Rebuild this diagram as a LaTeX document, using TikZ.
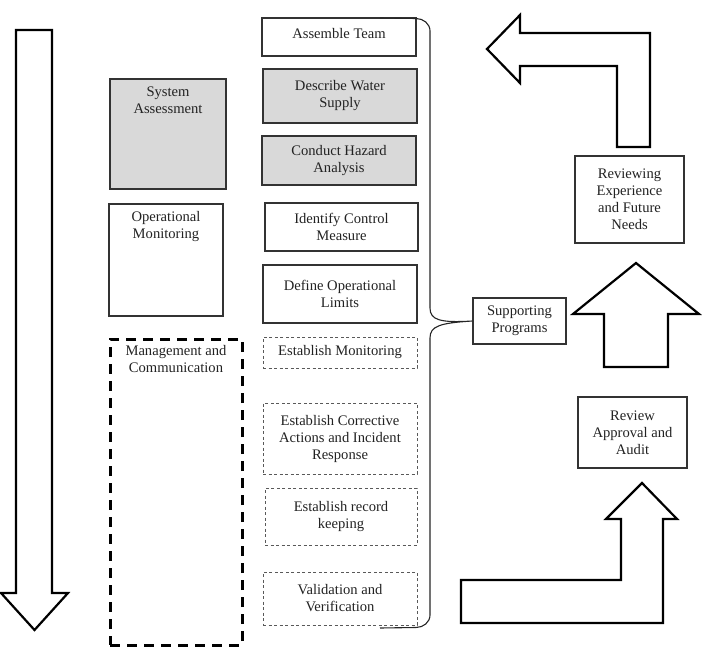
\documentclass[tikz,border=0pt]{standalone}
\usepackage{fontspec}
\setmainfont{Liberation Serif}
\definecolor{boxgray}{HTML}{D9D9D9}
\definecolor{edge}{HTML}{333333}
\definecolor{txt}{HTML}{222222}
\begin{document}
\begin{tikzpicture}[x=1pt,y=-1pt,
  lbl/.style={font=\fontsize{14.6}{17}\selectfont, text=txt, align=center},
  box/.style={lbl, draw=edge, line width=1.1pt, inner sep=1pt},
  sz/.style 2 args={minimum width=#1pt, minimum height=#2pt},
  shaded/.style={box, fill=boxgray},
  thindash/.style={box, draw=black!65, line width=0.9pt, dash pattern=on 3pt off 2.5pt},
  thickdash/.style={draw=black, line width=3pt, dash pattern=on 10pt off 7pt, minimum width=132pt, minimum height=306pt},
  bigarrow/.style={draw=black, line width=2.2pt, line join=miter, fill=white},
  bracket/.style={draw=black!85, line width=1.1pt}]
\useasboundingbox (0,0) rectangle (702,650);

% left down arrow
\draw[bigarrow] (16,30) -- (52,30) -- (52,593) -- (68,593) -- (34.5,630) -- (1,593) -- (16,593) -- cycle;

% right side arrows
\draw[bigarrow] (487,49) -- (520,15) -- (520,33) -- (650,33) -- (650,147) -- (617,147) -- (617,66) -- (520,66) -- (520,83) -- cycle;
\draw[bigarrow] (636,263) -- (699,314) -- (668,314) -- (668,367) -- (604,367) -- (604,314) -- (573,314) -- cycle;
\draw[bigarrow] (461,580) -- (621,580) -- (621,519) -- (606,519) -- (642,483) -- (677,519) -- (663,519) -- (663,623) -- (461,623) -- cycle;

% left column
\node[shaded, sz={116}{110}] (sys) at (168,134) {};
\node[lbl, anchor=north, inner sep=0pt] (systxt) at ([yshift=-8pt]sys.north) {System\\Assessment};
\node[box, sz={114}{112}] (opm) at (166,260) {};
\node[lbl, anchor=north, inner sep=0pt] (opmtxt) at ([yshift=-8pt]opm.north) {Operational\\Monitoring};
\node[thickdash] (mgmt) at (176,492) {};
\node[lbl, anchor=north, inner sep=0pt] (mgmttxt) at ([yshift=-8pt]mgmt.north) {Management and\\Communication};

% middle column
\node[box, sz={154}{38}] (team) at (339,37) {};
\node[lbl, inner sep=0pt] (teamtxt) at (339,34) {Assemble Team};
\node[shaded, sz={154}{54}] (water) at (340,96) {Describe Water\\Supply};
\node[shaded, sz={154}{49}] (hazard) at (339,160.5) {Conduct Hazard\\Analysis};
\node[box, sz={153}{48}] (control) at (341.5,227) {Identify Control\\Measure};
\node[box, sz={154}{58}] (limits) at (340,294) {Define Operational\\Limits};
\node[thindash, sz={154}{31}] (monitor) at (340,352.5) {Establish Monitoring};
\node[thindash, sz={154}{71}] (corrective) at (340,438.5) {Establish Corrective\\Actions and Incident\\Response};
\node[thindash, sz={152}{57}] (record) at (341,516.5) {Establish record\\keeping};
\node[thindash, sz={154}{53}] (valid) at (340,598.5) {Validation and\\Verification};

% right column
\node[box, sz={93}{46}] (support) at (519.5,321) {Supporting\\Programs};
\node[box, fill=white, sz={109}{87}] (reviewing) at (629.5,199.5) {Reviewing\\Experience\\and Future\\Needs};
\node[box, sz={109}{71}] (review) at (632.5,432.5) {Review\\Approval and\\Audit};

% brace
\coordinate (btop) at (380,18);
\coordinate (bbot) at (380,628);
\draw[bracket] (btop) -- (416,18.5) to[out=0,in=90] (430,31) -- (430,308)
  .. controls (430,320) and (440,323) .. (support.west)
  .. controls (440,323) and (430,326) .. (430,338) -- (430,615)
  to[out=-90,in=0] (416,627.5) -- (bbot);
\end{tikzpicture}
\end{document}
